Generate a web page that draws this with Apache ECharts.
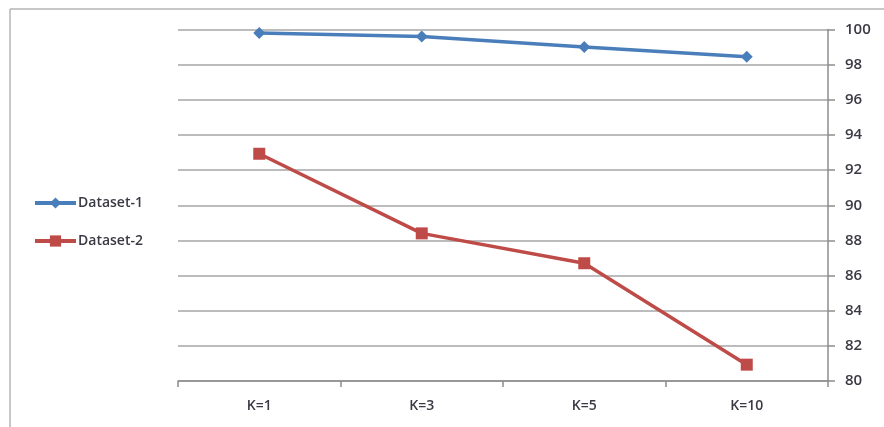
<!DOCTYPE html>
<html>
<head>
<meta charset="utf-8">
<script src="https://cdn.jsdelivr.net/npm/echarts@6/dist/echarts.min.js"></script>
<style>html,body{margin:0;padding:0;background:#fff;}#c{width:884px;height:427px;}</style>
</head>
<body>
<div id="c"></div>
<script>
const categories = ['K=1', 'K=3', 'K=5', 'K=10'];
const dataset1 = [99.8, 99.6, 99.0, 98.45];
const dataset2 = [92.93, 88.4, 86.7, 80.93];
const seriesNames = ['Dataset-1', 'Dataset-2'];
const yMin = 80, yMax = 100, yStep = 2;

const chart = echarts.init(document.getElementById('c'), null, {renderer: 'canvas'});
const font = '"Open Sans", "Liberation Sans", Arial, sans-serif';
chart.setOption({
  backgroundColor: '#ffffff',
  animation: false,
  grid: {left: 178, right: 56, top: 29.5, bottom: 46, containLabel: false},
  legend: {
    orient: 'vertical', left: 28, top: 191, itemGap: 24,
    itemWidth: 41, itemHeight: 14,
    lineStyle: {width: 4},
    textStyle: {fontFamily: font, fontSize: 14, fontWeight: 600, color: '#3a3a44', padding: [0, 0, 0, -3]},
    data: seriesNames
  },
  xAxis: {
    type: 'category', data: categories, boundaryGap: true,
    axisLine: {lineStyle: {color: '#8c8c8c', width: 1.5}},
    axisTick: {show: true, length: 6, lineStyle: {color: '#8c8c8c', width: 1.5}},
    axisLabel: {margin: 18, fontFamily: font, fontSize: 14, fontWeight: 600, color: '#3a3a44'}
  },
  yAxis: {
    type: 'value', position: 'right', min: yMin, max: yMax, interval: yStep,
    axisLine: {show: true, lineStyle: {color: '#8c8c8c', width: 1.5}},
    axisTick: {show: true, length: 7, inside: false, lineStyle: {color: '#8c8c8c', width: 1.5}},
    axisLabel: {margin: 17, fontFamily: font, fontSize: 15, fontWeight: 600, color: '#3a3a44'},
    splitLine: {show: true, lineStyle: {color: '#a6a6a6', width: 1.5}}
  },
  series: [
    {
      name: seriesNames[0], type: 'line', data: dataset1,
      symbol: 'diamond', symbolSize: 12,
      lineStyle: {color: '#4A7EBB', width: 3.5},
      itemStyle: {color: '#4A7EBB'}
    },
    {
      name: seriesNames[1], type: 'line', data: dataset2,
      symbol: 'rect', symbolSize: 12,
      lineStyle: {color: '#BE4B48', width: 3.5},
      itemStyle: {color: '#BE4B48'}
    }
  ],
  graphic: [
    {type: 'line', shape: {x1: 10, y1: 9, x2: 10, y2: 427}, style: {stroke: '#b5b5b5', lineWidth: 1.5}},
    {type: 'line', shape: {x1: 10, y1: 9, x2: 884, y2: 9}, style: {stroke: '#b5b5b5', lineWidth: 1.5}}
  ]
});
</script>
</body>
</html>
